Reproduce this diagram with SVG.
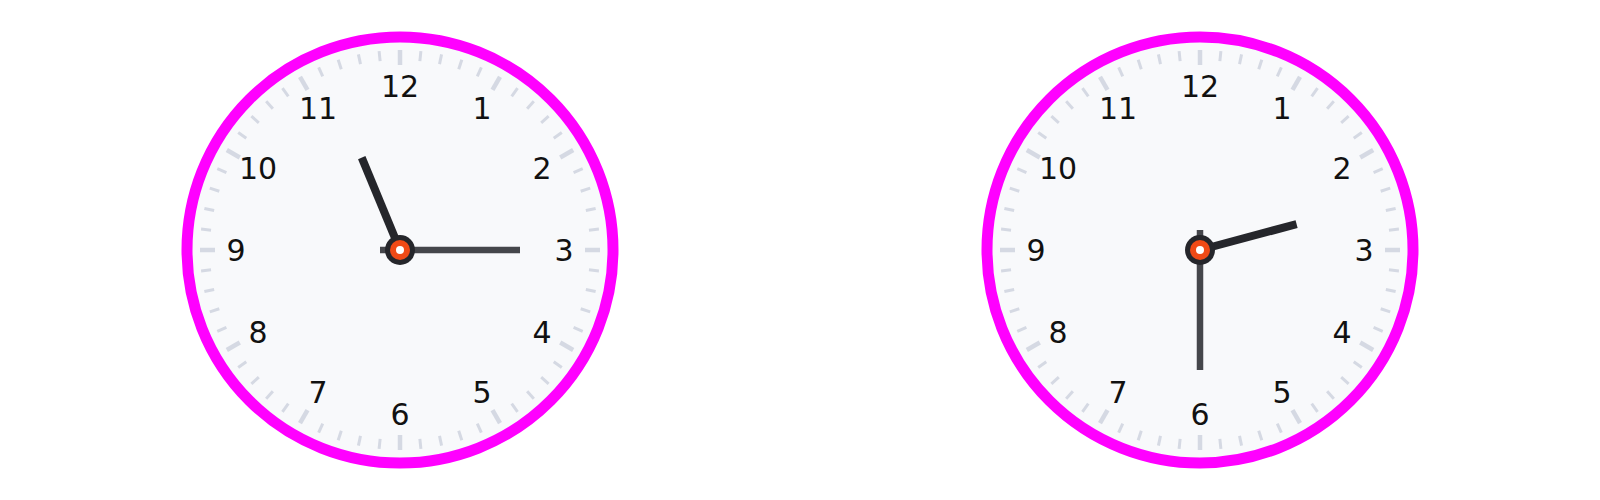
<svg xmlns="http://www.w3.org/2000/svg" xmlns:xlink="http://www.w3.org/1999/xlink" width="1600" height="500" viewBox="0 0 1600 500">
<style>
.face{fill:#f8f9fb;stroke:#ff00ff;stroke-width:11}
.minor{stroke:#d5d9e3;stroke-width:3}
.major{stroke:#d5d9e3;stroke-width:4.5}
.num{font-family:"DejaVu Sans",sans-serif;font-size:30px;fill:#111;text-anchor:middle;dominant-baseline:central}
.hour{stroke:#25262b;stroke-width:8}
.minute{stroke:#45464b;stroke-width:6.5}
.cap1{fill:#25262b}
.cap2{fill:#f04a16}
.cap3{fill:#ffffff}
</style>
<defs>
<line id="mi" class="minor" x1="0" y1="-200" x2="0" y2="-190"/>
<line id="ma" class="major" x1="0" y1="-200" x2="0" y2="-185"/>
<g id="ticks">
<use xlink:href="#ma" transform="rotate(0)"/><use xlink:href="#mi" transform="rotate(6)"/><use xlink:href="#mi" transform="rotate(12)"/><use xlink:href="#mi" transform="rotate(18)"/><use xlink:href="#mi" transform="rotate(24)"/>
<use xlink:href="#ma" transform="rotate(30)"/><use xlink:href="#mi" transform="rotate(36)"/><use xlink:href="#mi" transform="rotate(42)"/><use xlink:href="#mi" transform="rotate(48)"/><use xlink:href="#mi" transform="rotate(54)"/>
<use xlink:href="#ma" transform="rotate(60)"/><use xlink:href="#mi" transform="rotate(66)"/><use xlink:href="#mi" transform="rotate(72)"/><use xlink:href="#mi" transform="rotate(78)"/><use xlink:href="#mi" transform="rotate(84)"/>
<use xlink:href="#ma" transform="rotate(90)"/><use xlink:href="#mi" transform="rotate(96)"/><use xlink:href="#mi" transform="rotate(102)"/><use xlink:href="#mi" transform="rotate(108)"/><use xlink:href="#mi" transform="rotate(114)"/>
<use xlink:href="#ma" transform="rotate(120)"/><use xlink:href="#mi" transform="rotate(126)"/><use xlink:href="#mi" transform="rotate(132)"/><use xlink:href="#mi" transform="rotate(138)"/><use xlink:href="#mi" transform="rotate(144)"/>
<use xlink:href="#ma" transform="rotate(150)"/><use xlink:href="#mi" transform="rotate(156)"/><use xlink:href="#mi" transform="rotate(162)"/><use xlink:href="#mi" transform="rotate(168)"/><use xlink:href="#mi" transform="rotate(174)"/>
<use xlink:href="#ma" transform="rotate(180)"/><use xlink:href="#mi" transform="rotate(186)"/><use xlink:href="#mi" transform="rotate(192)"/><use xlink:href="#mi" transform="rotate(198)"/><use xlink:href="#mi" transform="rotate(204)"/>
<use xlink:href="#ma" transform="rotate(210)"/><use xlink:href="#mi" transform="rotate(216)"/><use xlink:href="#mi" transform="rotate(222)"/><use xlink:href="#mi" transform="rotate(228)"/><use xlink:href="#mi" transform="rotate(234)"/>
<use xlink:href="#ma" transform="rotate(240)"/><use xlink:href="#mi" transform="rotate(246)"/><use xlink:href="#mi" transform="rotate(252)"/><use xlink:href="#mi" transform="rotate(258)"/><use xlink:href="#mi" transform="rotate(264)"/>
<use xlink:href="#ma" transform="rotate(270)"/><use xlink:href="#mi" transform="rotate(276)"/><use xlink:href="#mi" transform="rotate(282)"/><use xlink:href="#mi" transform="rotate(288)"/><use xlink:href="#mi" transform="rotate(294)"/>
<use xlink:href="#ma" transform="rotate(300)"/><use xlink:href="#mi" transform="rotate(306)"/><use xlink:href="#mi" transform="rotate(312)"/><use xlink:href="#mi" transform="rotate(318)"/><use xlink:href="#mi" transform="rotate(324)"/>
<use xlink:href="#ma" transform="rotate(330)"/><use xlink:href="#mi" transform="rotate(336)"/><use xlink:href="#mi" transform="rotate(342)"/><use xlink:href="#mi" transform="rotate(348)"/><use xlink:href="#mi" transform="rotate(354)"/>
</g>
<g id="nums">
<text class="num" x="82" y="-142">1</text>
<text class="num" x="142" y="-82">2</text>
<text class="num" x="164" y="0">3</text>
<text class="num" x="142" y="82">4</text>
<text class="num" x="82" y="142">5</text>
<text class="num" x="0" y="164">6</text>
<text class="num" x="-82" y="142">7</text>
<text class="num" x="-142" y="82">8</text>
<text class="num" x="-164" y="0">9</text>
<text class="num" x="-142" y="-82">10</text>
<text class="num" x="-82" y="-142">11</text>
<text class="num" x="0" y="-164">12</text>
</g>
<g id="cap">
<circle class="cap1" r="15"/>
<circle class="cap2" r="10"/>
<circle class="cap3" r="4"/>
</g>
</defs>
<rect width="1600" height="500" fill="#ffffff"/>
<g id="clock-left" transform="translate(400,250)">
<circle class="face" r="213"/>
<use xlink:href="#ticks"/>
<use xlink:href="#nums"/>
<line class="hour" x1="0" y1="0" x2="0" y2="-100" transform="rotate(-22.5)"/>
<line class="minute" x1="0" y1="20" x2="0" y2="-120" transform="rotate(90)"/>
<use xlink:href="#cap"/>
</g>
<g id="clock-right" transform="translate(1200,250)">
<circle class="face" r="213"/>
<use xlink:href="#ticks"/>
<use xlink:href="#nums"/>
<line class="hour" x1="0" y1="0" x2="0" y2="-100" transform="rotate(75)"/>
<line class="minute" x1="0" y1="20" x2="0" y2="-120" transform="rotate(180)"/>
<use xlink:href="#cap"/>
</g>
</svg>
